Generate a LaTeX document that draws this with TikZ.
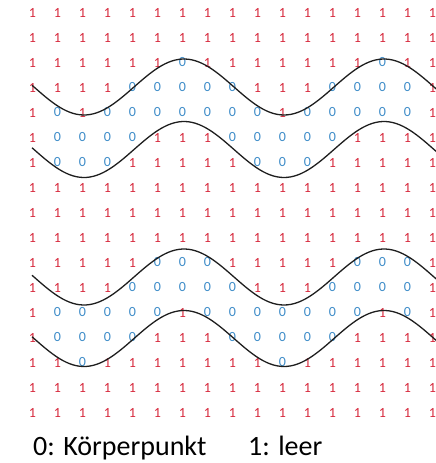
\documentclass[tikz,border=0pt]{standalone}
\usepackage{fontspec}
\setmainfont{Carlito}
\usepackage{xcolor}
\usepackage{tikz}
\definecolor{leerred}{RGB}{214,40,60}
\definecolor{punktblue}{RGB}{62,140,200}
\definecolor{wavecolor}{RGB}{30,30,30}

\begin{document}
\begin{tikzpicture}[x=1pt,y=-1pt,
    pt1/.style={text=leerred,inner sep=0pt,font=\fontsize{14}{14}\selectfont},
    pt0/.style={text=punktblue,inner sep=0pt,font=\fontsize{14}{14}\selectfont},
    wave/.style={draw=wavecolor,line width=1.3pt},
    legend/.style={anchor=base west,inner sep=0pt,font=\fontsize{28}{28}\selectfont}]
\useasboundingbox (0,0) rectangle (436,463);
% grid: 0 = point of the body, 1 = empty
\foreach \row [count=\j from 0] in {
    {1,1,1,1,1,1,1,1,1,1,1,1,1,1,1,1,1},
    {1,1,1,1,1,1,1,1,1,1,1,1,1,1,1,1,1},
    {1,1,1,1,1,1,0,1,1,1,1,1,1,1,0,1,1},
    {1,1,1,1,0,0,0,0,0,1,1,1,0,0,0,0,1},
    {1,0,1,0,0,0,0,0,0,0,1,0,0,0,0,0,1},
    {1,0,0,0,0,1,1,1,0,0,0,0,0,1,1,1,1},
    {1,0,0,0,1,1,1,1,1,0,0,0,1,1,1,1,1},
    {1,1,1,1,1,1,1,1,1,1,1,1,1,1,1,1,1},
    {1,1,1,1,1,1,1,1,1,1,1,1,1,1,1,1,1},
    {1,1,1,1,1,1,1,1,1,1,1,1,1,1,1,1,1},
    {1,1,1,1,1,0,0,0,1,1,1,1,1,0,0,0,1},
    {1,1,1,1,0,0,0,0,0,1,1,1,0,0,0,0,1},
    {1,0,0,0,0,0,1,0,0,0,0,0,0,0,1,0,1},
    {1,0,0,0,0,1,1,1,0,0,0,0,0,1,1,1,1},
    {1,1,0,1,1,1,1,1,1,1,0,1,1,1,1,1,1},
    {1,1,1,1,1,1,1,1,1,1,1,1,1,1,1,1,1},
    {1,1,1,1,1,1,1,1,1,1,1,1,1,1,1,1,1}}
  \foreach \v [count=\i from 0] in \row
    \node[pt\v] (p-\j-\i) at (32.5+25*\i,12.5+25*\j) {\v};

% boundary waves
\foreach \c in {87,149.5,277,338.5}
  \draw[wave] plot[domain=32:437,samples=120,smooth]
    (\x,{\c+28*sin((\x-34)*1.8)});

\node[legend] (legend0) at (33,455) {0: Körperpunkt};
\node[legend] (legend1) at (248,455) {1: leer};
\end{tikzpicture}
\end{document}
